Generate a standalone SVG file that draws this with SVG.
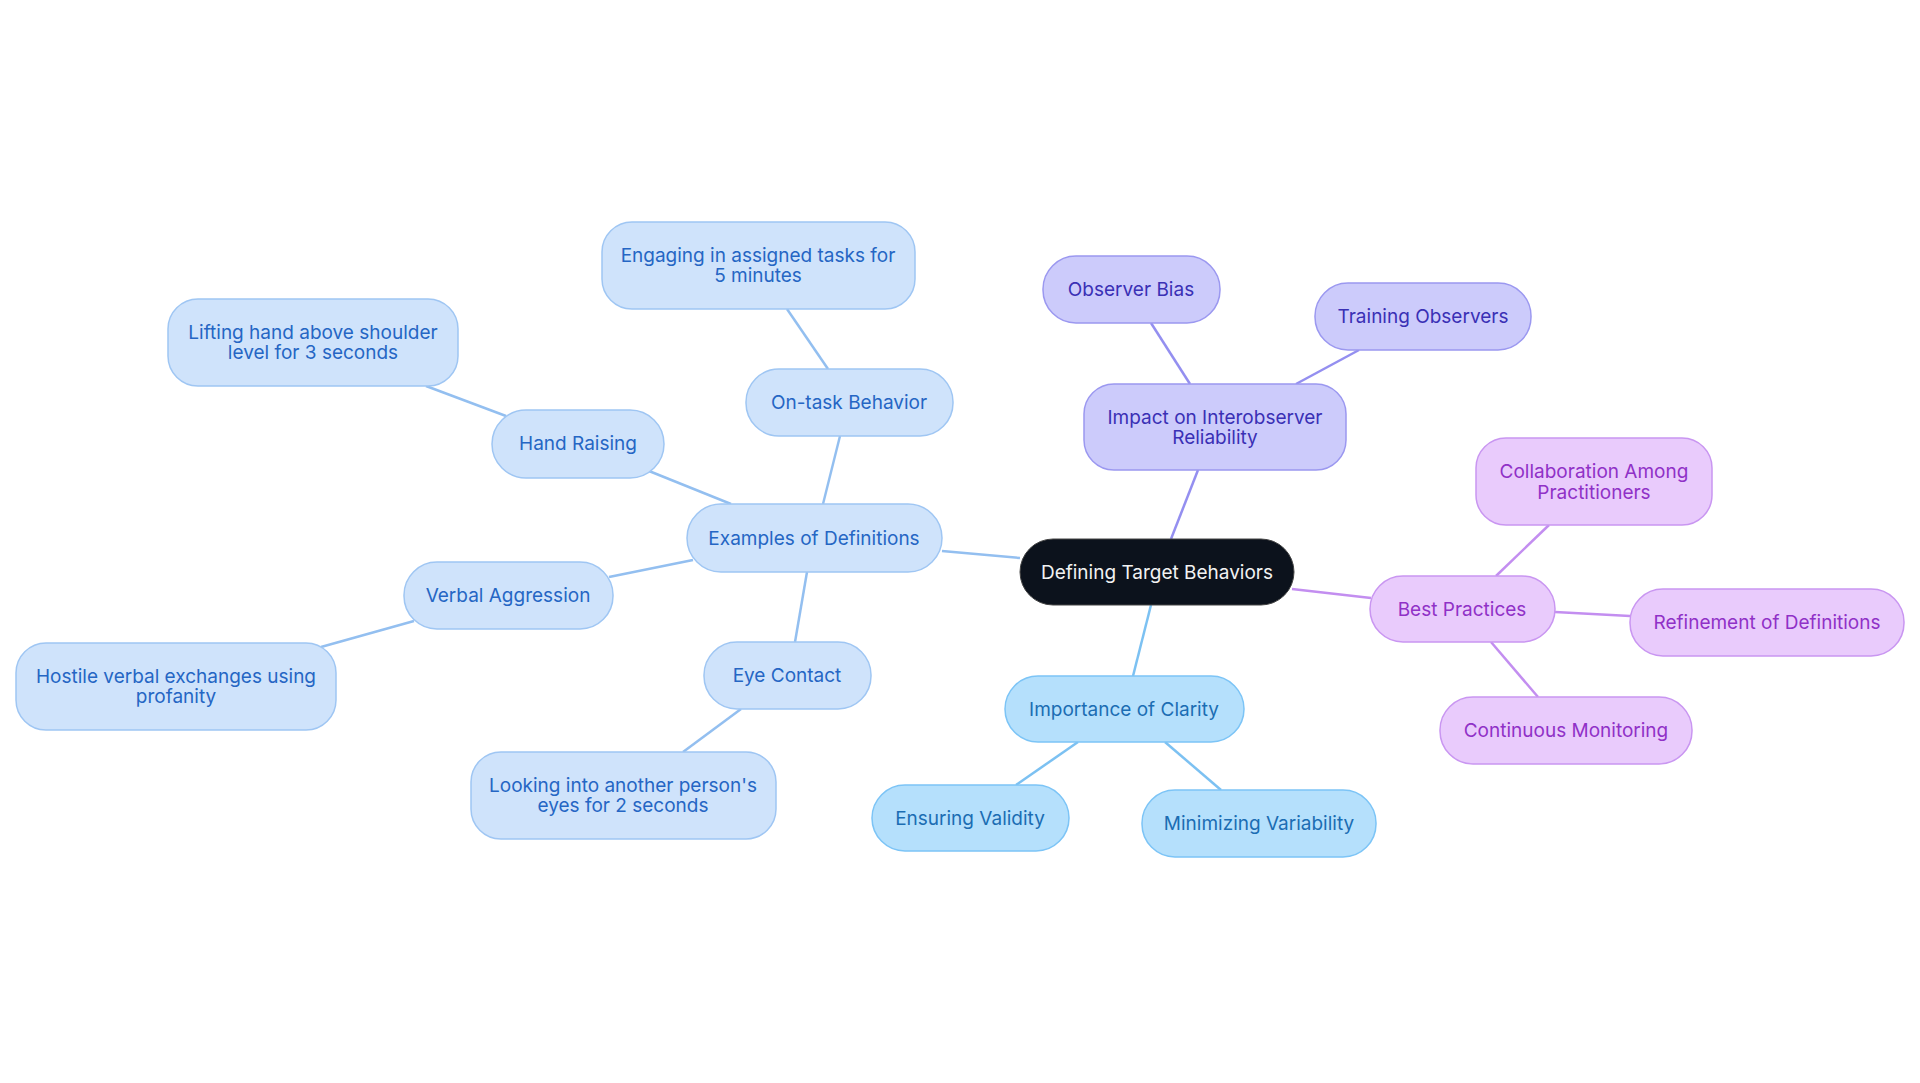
<svg xmlns="http://www.w3.org/2000/svg" width="1920" height="1083" viewBox="0 0 1920 1083">
<style>
text{font-family:Inter,"Noto Sans",sans-serif;font-size:19px;text-anchor:middle;dominant-baseline:central}
.c rect{fill:#b5e0fc;stroke:#7cc4f6;stroke-width:1.5}.c text{fill:#1b6db3}
.e rect{fill:#cfe3fb;stroke:#9fc6f3;stroke-width:1.5}.e text{fill:#2566c4}
.i rect{fill:#cccbfb;stroke:#9b98f0;stroke-width:1.5}.i text{fill:#3a30b5}
.b rect{fill:#e9cbfc;stroke:#c996f1;stroke-width:1.5}.b text{fill:#9031c7}
#edges line{stroke-width:2.5;fill:none}
</style>
<rect width="1920" height="1083" fill="#fff"/>
<g id="edges">
<g stroke="#7cc1f2"><line x1="1151" y1="605" x2="1133" y2="676"/><line x1="1078" y1="742" x2="1016" y2="785"/><line x1="1165" y1="742" x2="1221" y2="790"/></g>
<g stroke="#948ff0"><line x1="1171" y1="539" x2="1198" y2="470"/><line x1="1190" y1="384" x2="1151" y2="323"/><line x1="1296" y1="384" x2="1359" y2="350"/></g>
<g stroke="#c38ef0"><line x1="1292" y1="589" x2="1371" y2="598"/><line x1="1496" y1="576" x2="1549" y2="525"/><line x1="1555" y1="612" x2="1630" y2="616"/><line x1="1491" y1="642" x2="1538" y2="697"/></g>
<g stroke="#93bff0"><line x1="1020" y1="558" x2="942" y2="551"/><line x1="823" y1="504" x2="840" y2="436"/><line x1="828" y1="369" x2="787" y2="309"/><line x1="731" y1="504" x2="649" y2="471"/><line x1="506" y1="416" x2="426" y2="386"/><line x1="693" y1="560" x2="609" y2="577"/><line x1="414" y1="621" x2="321" y2="647"/><line x1="807" y1="572" x2="795" y2="642"/><line x1="741" y1="709" x2="683" y2="752"/></g>
</g>
<g id="central"><rect x="1020" y="539" width="274" height="66" rx="33" fill="#0c121c" stroke="#444" stroke-width="1"/><text x="1157" y="572" fill="#f2f2f2">Defining Target Behaviors</text></g>
<g id="clarity" class="c"><rect x="1005" y="676" width="239" height="66" rx="33"/><text x="1124" y="709">Importance of Clarity</text></g>
<g id="validity" class="c"><rect x="872" y="785" width="197" height="66" rx="33"/><text x="970" y="818">Ensuring Validity</text></g>
<g id="variability" class="c"><rect x="1142" y="790" width="234" height="67" rx="33"/><text x="1259" y="823">Minimizing Variability</text></g>
<g id="impact" class="i"><rect x="1084" y="384" width="262" height="86" rx="30"/><text x="1215" y="417">Impact on Interobserver</text><text x="1215" y="437">Reliability</text></g>
<g id="bias" class="i"><rect x="1043" y="256" width="177" height="67" rx="33"/><text x="1131" y="289">Observer Bias</text></g>
<g id="training" class="i"><rect x="1315" y="283" width="216" height="67" rx="33"/><text x="1423" y="316">Training Observers</text></g>
<g id="best" class="b"><rect x="1370" y="576" width="185" height="66" rx="33"/><text x="1462" y="609">Best Practices</text></g>
<g id="collab" class="b"><rect x="1476" y="438" width="236" height="87" rx="30"/><text x="1594" y="471">Collaboration Among</text><text x="1594" y="492">Practitioners</text></g>
<g id="refine" class="b"><rect x="1630" y="589" width="274" height="67" rx="33"/><text x="1767" y="622">Refinement of Definitions</text></g>
<g id="monitor" class="b"><rect x="1440" y="697" width="252" height="67" rx="33"/><text x="1566" y="730">Continuous Monitoring</text></g>
<g id="examples" class="e"><rect x="687" y="504" width="255" height="68" rx="34"/><text x="814" y="538">Examples of Definitions</text></g>
<g id="ontask" class="e"><rect x="746" y="369" width="207" height="67" rx="33"/><text x="849" y="402">On-task Behavior</text></g>
<g id="engaging" class="e"><rect x="602" y="222" width="313" height="87" rx="30"/><text x="758" y="255">Engaging in assigned tasks for</text><text x="758" y="275">5 minutes</text></g>
<g id="hand" class="e"><rect x="492" y="410" width="172" height="68" rx="34"/><text x="578" y="443">Hand Raising</text></g>
<g id="lifting" class="e"><rect x="168" y="299" width="290" height="87" rx="30"/><text x="313" y="332">Lifting hand above shoulder</text><text x="313" y="352">level for 3 seconds</text></g>
<g id="verbal" class="e"><rect x="404" y="562" width="209" height="67" rx="33"/><text x="508" y="595">Verbal Aggression</text></g>
<g id="hostile" class="e"><rect x="16" y="643" width="320" height="87" rx="30"/><text x="176" y="676">Hostile verbal exchanges using</text><text x="176" y="696">profanity</text></g>
<g id="eye" class="e"><rect x="704" y="642" width="167" height="67" rx="33"/><text x="787" y="675">Eye Contact</text></g>
<g id="looking" class="e"><rect x="471" y="752" width="305" height="87" rx="30"/><text x="623" y="785">Looking into another person's</text><text x="623" y="805">eyes for 2 seconds</text></g>
</svg>
